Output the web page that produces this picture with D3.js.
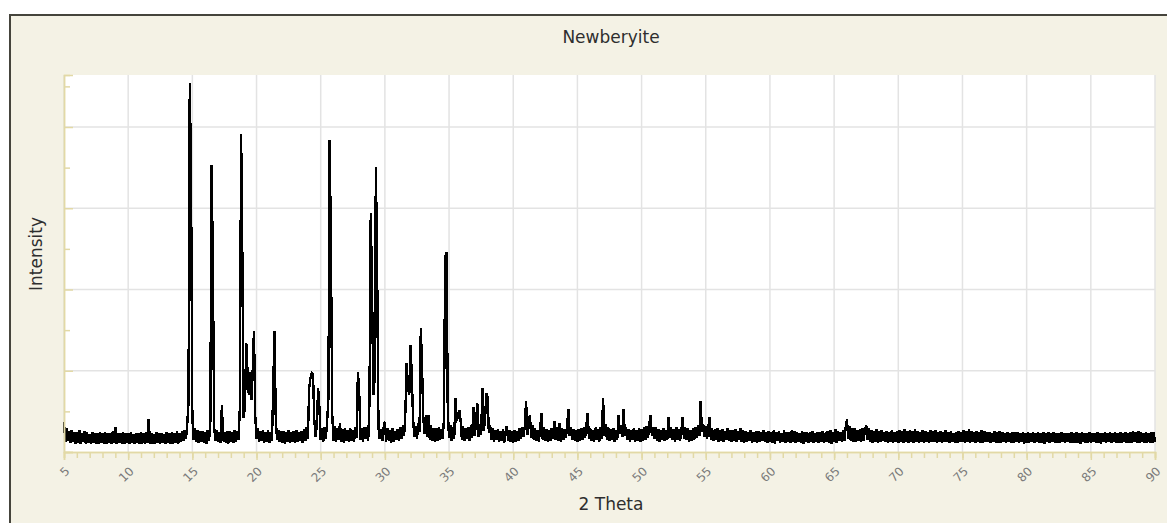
<!DOCTYPE html>
<html>
<head>
<meta charset="utf-8">
<script src="https://cdn.jsdelivr.net/npm/d3@7"></script>
<style>
  body { margin: 0; background: #fff; }
  svg { display: block; font-family: "DejaVu Sans", sans-serif; }
</style>
</head>
<body>
<svg id="canvas" width="1167" height="523"></svg>
<script>
// scan settings (2 Theta, degrees)
let thetaStart = 5.0;
let thetaStep = 0.1;

// intensity, one row per degree (x.0 .. x.9)
let intensity = [
  373,120,290,135,260,110,275,125,250,105,   // 5
  240,115,265,100,230,120,255,105,245,118,   // 6
  225,98,250,112,235,104,228,96,246,110,     // 7
  232,102,244,95,238,115,226,100,252,108,    // 8
  311,97,235,110,229,103,248,96,237,112,     // 9
  226,100,241,108,220,95,236,117,231,99,     // 10
  244,106,228,98,239,112,406,104,233,101,    // 11
  225,96,247,113,230,100,238,107,222,95,     // 12
  240,110,229,102,246,98,235,115,252,104,    // 13
  238,120,262,135,270,160,340,600,4540,3320, // 14
  420,150,290,125,270,110,255,130,262,115,   // 15
  248,105,270,140,370,3530,2280,300,140,265, // 16
  120,250,110,578,130,240,118,255,105,262,   // 17
  122,248,108,270,125,260,150,541,3911,2341, // 18
  420,560,1345,988,700,988,640,988,1492,450, // 19
  160,290,120,260,135,275,118,250,130,268,   // 20
  112,245,140,763,1492,400,150,270,125,255,  // 21
  118,262,105,250,130,275,112,244,125,258,   // 22
  108,270,122,248,135,262,115,280,140,300,   // 23
  160,787,910,972,960,400,180,330,787,541,   // 24
  150,290,130,310,160,380,664,3838,2411,450, // 25
  140,320,125,295,150,350,130,280,118,300,   // 26
  135,275,120,290,142,265,128,300,170,988,   // 27
  730,150,290,130,310,160,300,140,620,2944,  // 28
  2005,700,900,3510,2189,295,160,280,135,300,// 29
  373,125,290,140,270,118,295,130,262,150,   // 30
  280,135,300,160,330,200,500,1091,800,700,  // 31
  1316,910,400,180,320,160,350,250,1521,1009,// 32
  400,220,455,180,455,150,330,140,300,125,   // 33
  290,135,310,150,280,160,400,2403,2464,517, // 34
  170,330,140,300,160,660,394,420,517,394,   // 35
  150,320,135,295,160,310,140,330,170,557,   // 36
  200,350,599,180,340,210,783,260,380,722,   // 37
  681,240,330,150,290,130,270,145,285,120,   // 38
  262,135,280,118,250,320,140,270,125,260,   // 39
  115,275,130,258,142,290,160,300,185,320,   // 40
  631,210,380,455,170,330,150,290,140,275,   // 41
  125,300,476,150,310,135,285,120,270,140,   // 42
  295,160,381,150,310,140,353,130,290,145,   // 43
  280,170,330,529,200,300,150,280,135,265,   // 44
  120,280,140,295,150,310,170,330,476,160,   // 45
  290,140,275,125,300,150,285,130,310,160,   // 46
  660,200,340,150,300,135,280,145,295,130,   // 47
  270,150,455,220,330,180,525,200,300,150,   // 48
  285,130,270,145,300,120,265,140,290,125,   // 49
  280,135,300,150,320,170,340,455,200,310,   // 50
  160,300,140,285,130,270,150,290,135,275,   // 51
  145,427,170,300,150,285,130,310,145,280,   // 52
  135,270,427,160,300,145,290,130,275,140,   // 53
  295,150,310,170,330,200,631,250,340,180,   // 54
  320,160,300,427,150,290,135,280,145,300,   // 55
  130,270,140,285,125,260,150,295,135,275,   // 56
  120,265,138,280,130,255,145,290,125,270,   // 57
  118,260,130,245,140,275,115,250,128,262,   // 58
  110,255,125,240,135,268,120,248,112,258,   // 59
  126,250,118,270,105,245,132,260,115,238,   // 60
  122,265,108,250,130,242,115,268,120,255,   // 61
  110,248,125,236,118,262,104,245,128,250,   // 62
  115,240,130,258,112,235,126,250,108,244,   // 63
  120,262,110,238,125,255,115,270,105,245,   // 64
  130,280,118,260,135,250,122,275,140,300,   // 65
  402,160,320,140,290,130,300,125,270,140,   // 66
  285,120,300,135,270,332,150,290,125,265,   // 67
  118,255,130,280,112,260,125,270,135,248,   // 68
  120,262,108,250,130,275,115,245,125,258,   // 69
  110,268,126,252,118,280,130,260,112,270,   // 70
  124,255,116,285,130,262,110,250,125,275,   // 71
  118,260,128,245,112,270,120,252,130,265,   // 72
  115,248,125,262,108,240,120,275,130,250,   // 73
  112,258,122,236,118,250,110,262,126,245,   // 74
  120,270,108,255,130,280,115,260,124,250,   // 75
  110,262,125,248,118,270,112,255,128,242,   // 76
  122,250,108,236,126,258,115,240,110,252,   // 77
  118,245,126,230,112,248,120,235,108,242,   // 78
  115,238,124,250,110,232,120,245,106,236,   // 79
  118,240,108,228,122,246,112,232,120,244,   // 80
  110,236,118,250,106,230,124,242,112,235,   // 81
  120,245,108,232,116,238,110,248,122,230,   // 82
  112,236,120,228,108,242,116,234,110,240,   // 83
  118,230,106,244,120,236,112,228,118,246,   // 84
  108,238,122,230,112,248,118,236,106,232,   // 85
  120,242,110,234,124,250,114,238,120,244,   // 86
  112,236,118,246,108,232,122,240,112,236,   // 87
  118,248,110,262,120,240,114,255,108,246,   // 88
  120,238,112,250,118,232,110,244,116,240,   // 89
  120                                        // 90
];

// axis settings
let xMajorTicks = [5, 10, 15, 20, 25, 30, 35, 40, 45, 50, 55, 60, 65, 70, 75, 80, 85, 90];
let xDomain = [5, 90];
let yDomain = [0, 4640];
let yMajorTicks = [0, 1000, 2000, 3000, 4000];
let yMinorTicks = [500, 1500, 2500, 3500, 4500];

let titleText = "Newberyite";
let xLabel = "2 Theta";
let yLabel = "Intensity";

let svg = d3.select("#canvas");

let plotLeft = 64, plotRight = 1155, plotTop = 75, plotBottom = 452;

let xScale = d3.scaleLinear().domain(xDomain).range([plotLeft, plotRight]);
let yScale = d3.scaleLinear().domain(yDomain).range([plotBottom, plotTop]);

let axisColor = "#e2d9a6";

// panel
svg.append("rect")
    .attr("x", 10).attr("y", 15)
    .attr("width", 1170).attr("height", 520)
    .attr("fill", "#f4f2e5")
    .attr("stroke", "#45443c")
    .attr("stroke-width", 2);

// plot area
svg.append("rect")
    .attr("x", plotLeft).attr("y", plotTop)
    .attr("width", plotRight - plotLeft).attr("height", plotBottom - plotTop)
    .attr("fill", "#ffffff");

// grid
svg.append("g")
    .selectAll("line")
    .data(xMajorTicks)
    .enter()
    .append("line")
    .attr("x1", (d) => xScale(d)).attr("x2", (d) => xScale(d))
    .attr("y1", plotTop).attr("y2", plotBottom)
    .attr("stroke", "#e3e3e3")
    .attr("stroke-width", 1.5);

svg.append("g")
    .selectAll("line")
    .data(yMajorTicks.slice(1))
    .enter()
    .append("line")
    .attr("x1", plotLeft).attr("x2", plotRight)
    .attr("y1", (d) => yScale(d)).attr("y2", (d) => yScale(d))
    .attr("stroke", "#e3e3e3")
    .attr("stroke-width", 1.5);

// data line
let points = intensity.map((v, i) => {
    return [thetaStart + i * thetaStep, v];
});

let line = d3.line()
    .x((p) => xScale(p[0]))
    .y((p) => yScale(p[1]));

svg.append("path")
    .datum(points)
    .attr("d", line)
    .attr("fill", "none")
    .attr("stroke", "#000000")
    .attr("stroke-width", 2.4)
    .attr("stroke-linejoin", "miter")
    .attr("shape-rendering", "crispEdges");

// x axis: minor ticks every degree, major every 5 with labels
let xMinor = d3.axisBottom(xScale)
    .tickValues(d3.range(5, 91, 1))
    .tickSize(6)
    .tickFormat("");

let xMajor = d3.axisBottom(xScale)
    .tickValues(xMajorTicks)
    .tickSize(8)
    .tickFormat(d3.format("d"));

let gxMinor = svg.append("g")
    .attr("transform", "translate(0," + plotBottom + ")")
    .call(xMinor);

let gxMajor = svg.append("g")
    .attr("transform", "translate(0," + plotBottom + ")")
    .call(xMajor);

[gxMinor, gxMajor].forEach((g) => {
    g.select(".domain").attr("stroke", axisColor).attr("stroke-width", 1.5);
    g.selectAll(".tick line").attr("stroke", axisColor).attr("stroke-width", 1.5);
});

gxMajor.selectAll(".tick text")
    .attr("x", 0).attr("y", 0).attr("dy", "0.35em")
    .attr("transform", "translate(3,17) rotate(-45)")
    .style("text-anchor", "end")
    .attr("fill", "#7a7a7a")
    .style("font-family", "DejaVu Sans, sans-serif")
    .style("font-size", "12px");

// y axis: ticks point into the plot, no labels
let yMinor = d3.axisRight(yScale)
    .tickValues(yMinorTicks)
    .tickSize(6)
    .tickFormat("");

let yMajor = d3.axisRight(yScale)
    .tickValues(yMajorTicks)
    .tickSize(9)
    .tickFormat("");

let gyMinor = svg.append("g")
    .attr("transform", "translate(" + plotLeft + ",0)")
    .call(yMinor);

let gyMajor = svg.append("g")
    .attr("transform", "translate(" + plotLeft + ",0)")
    .call(yMajor);

[gyMinor, gyMajor].forEach((g) => {
    g.select(".domain").attr("stroke", axisColor).attr("stroke-width", 1.5);
    g.selectAll(".tick line").attr("stroke", axisColor).attr("stroke-width", 1.5);
});

// titles
svg.append("text")
    .attr("x", 611).attr("y", 43)
    .attr("text-anchor", "middle")
    .attr("fill", "#2e2e2e")
    .style("font-size", "17px")
    .text(titleText);

svg.append("text")
    .attr("x", 611).attr("y", 510)
    .attr("text-anchor", "middle")
    .attr("fill", "#2e2e2e")
    .style("font-size", "17px")
    .text(xLabel);

svg.append("text")
    .attr("transform", "translate(42,254) rotate(-90)")
    .attr("text-anchor", "middle")
    .attr("fill", "#2e2e2e")
    .style("font-size", "17px")
    .text(yLabel);
</script>
</body>
</html>
